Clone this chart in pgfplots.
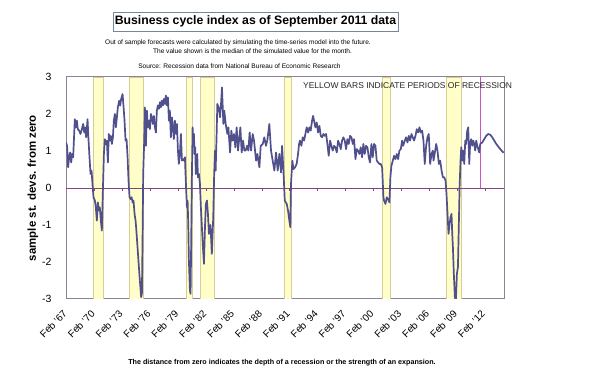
\documentclass[border=0pt]{standalone}
\usepackage{pgfplots}
\pgfplotsset{compat=1.18}
\usepackage{fontspec}
\setmainfont{Liberation Sans}
\definecolor{serie}{RGB}{80,80,140}
\definecolor{recfill}{RGB}{255,253,200}
\definecolor{recdraw}{RGB}{215,205,150}
\definecolor{frame}{RGB}{140,130,150}
\definecolor{zeroline}{RGB}{128,70,128}
\definecolor{pinkline}{RGB}{205,80,205}
\definecolor{titlebox}{RGB}{120,135,150}
\begin{document}
\begin{tikzpicture}
\useasboundingbox (0,0) rectangle (590bp,384bp);
\node[draw=titlebox, line width=0.6bp, minimum width=285bp, minimum height=19bp, inner sep=0pt, font=\fontsize{12.3}{14}\selectfont\bfseries] at (255.5bp,362.5bp) {Business cycle index as of September 2011 data};
\node[font=\fontsize{6.6}{8}\selectfont] at (238bp,341bp) {Out of sample forecasts were calculated by simulating the time-series model into the future.};
\node[font=\fontsize{6.6}{8}\selectfont] at (252.5bp,332.5bp) {The value shown is the median of the simulated value for the month.};
\node[font=\fontsize{6.6}{8}\selectfont] at (239.5bp,318bp) {Source: Recession data from National Bureau  of Economic Research};
\node[font=\fontsize{7.2}{9}\selectfont\bfseries] at (282bp,21bp) {The distance from zero indicates the depth of a recession or the strength of an expansion.};
\begin{axis}[
  at={(66bp,85bp)}, anchor=south west,
  scale only axis, width=438bp, height=222bp,
  xmin=1967, xmax=2014.15, ymin=-3, ymax=3,
  axis line style={draw=frame, line width=1bp},
  tick style={draw=none},
  ytick={-3,-2,-1,0,1,2,3},
  yticklabel style={font=\fontsize{10.5}{12}\selectfont, xshift=-11bp},
  /pgf/number format/assume math mode=true,
  xtick={1967.083,1970.083,1973.083,1976.083,1979.083,1982.083,1985.083,1988.083,1991.083,1994.083,1997.083,2000.083,2003.083,2006.083,2009.083,2012.083},
  xticklabels={Feb '67,Feb '70,Feb '73,Feb '76,Feb '79,Feb '82,Feb '85,Feb '88,Feb '91,Feb '94,Feb '97,Feb '00,Feb '03,Feb '06,Feb '09,Feb '12},
  xticklabel style={rotate=45, anchor=north east, font=\fontsize{10}{12}\selectfont, xshift=-7bp, yshift=-1bp},
  ylabel={sample st. devs. from zero},
  every axis y label/.style={at={(axis description cs:-0.0753,0.5)}, rotate=90, anchor=center, font=\fontsize{11.5}{13}\selectfont\bfseries},
]
% recession bars
\addplot[fill=recfill, draw=recdraw, line width=0.6bp] coordinates {(1969.92,-3) (1969.92,3) (1971.0,3) (1971.0,-3)} --cycle;
\addplot[fill=recfill, draw=recdraw, line width=0.6bp] coordinates {(1973.80,-3) (1973.80,3) (1975.30,3) (1975.30,-3)} --cycle;
\addplot[fill=recfill, draw=recdraw, line width=0.6bp] coordinates {(1979.98,-3) (1979.98,3) (1980.59,3) (1980.59,-3)} --cycle;
\addplot[fill=recfill, draw=recdraw, line width=0.6bp] coordinates {(1981.49,-3) (1981.49,3) (1982.96,3) (1982.96,-3)} --cycle;
\addplot[fill=recfill, draw=recdraw, line width=0.6bp] coordinates {(1990.50,-3) (1990.50,3) (1991.30,3) (1991.30,-3)} --cycle;
\addplot[fill=recfill, draw=recdraw, line width=0.6bp] coordinates {(2001.10,-3) (2001.10,3) (2001.93,3) (2001.93,-3)} --cycle;
\addplot[fill=recfill, draw=recdraw, line width=0.6bp] coordinates {(2007.93,-3) (2007.93,3) (2009.51,3) (2009.51,-3)} --cycle;
% zero line and small ticks
\addplot[zeroline, line width=0.8bp] coordinates {(1967,0) (2014.15,0)};
\addplot[ycomb, zeroline, line width=0.5bp, mark=none] coordinates {(1970.083,-0.08) (1973.083,-0.08) (1976.083,-0.08) (1979.083,-0.08) (1982.083,-0.08) (1985.083,-0.08) (1988.083,-0.08) (1991.083,-0.08) (1994.083,-0.08) (1997.083,-0.08) (2000.083,-0.08) (2003.083,-0.08) (2006.083,-0.08) (2009.083,-0.08) (2012.083,-0.08)};
% data end marker
\addplot[pinkline, line width=1bp] coordinates {(2011.67,0) (2011.67,3)};
% index
\addplot[serie, line width=1.7bp, line join=round, mark=none] coordinates {
(1967.00,1.23) (1967.12,1.14) (1967.23,0.56) (1967.34,0.83) (1967.45,0.96) (1967.56,0.69) (1967.66,0.92) (1967.77,0.83) (1967.88,1.46) (1967.95,1.86)
(1968.06,1.64) (1968.17,1.82) (1968.27,1.59) (1968.42,1.55) (1968.56,1.46) (1968.71,1.59) (1968.85,1.73) (1968.96,1.50) (1969.06,1.64) (1969.17,1.37)
(1969.32,1.86) (1969.42,1.32) (1969.53,0.83) (1969.64,0.38) (1969.75,0.47) (1969.85,0.11) (1969.96,-0.25) (1970.11,-0.34) (1970.21,-0.52) (1970.32,-0.88)
(1970.43,-0.39) (1970.54,-0.61) (1970.64,-0.52) (1970.75,-0.88) (1970.86,-1.15) (1970.97,-0.07) (1971.08,0.92) (1971.18,1.32) (1971.29,1.19) (1971.40,1.28)
(1971.51,0.69) (1971.61,1.46) (1971.72,1.28) (1971.83,1.41) (1971.94,1.19) (1972.05,1.37) (1972.15,1.82) (1972.26,2.00) (1972.37,1.64) (1972.48,1.91)
(1972.58,2.18) (1972.73,2.36) (1972.84,2.23) (1972.94,2.41) (1973.09,2.54) (1973.20,2.18) (1973.30,1.82) (1973.41,1.28) (1973.52,1.32) (1973.63,0.83)
(1973.73,0.20) (1973.84,-0.25) (1973.95,-0.30) (1974.06,-0.25) (1974.17,-0.39) (1974.27,-0.34) (1974.38,-0.70) (1974.49,-0.88) (1974.59,-1.20) (1974.81,-2.00)
(1974.95,-2.50) (1975.09,-2.95) (1975.17,-2.86) (1975.24,-1.42) (1975.31,0.38) (1975.42,1.28) (1975.49,2.18) (1975.60,1.14) (1975.71,2.09) (1975.81,1.64)
(1975.92,1.82) (1976.03,1.59) (1976.14,2.00) (1976.24,1.91) (1976.35,1.73) (1976.46,1.95) (1976.57,1.64) (1976.68,1.50) (1976.78,2.09) (1976.89,2.23)
(1977.00,2.14) (1977.11,2.32) (1977.21,2.18) (1977.32,2.36) (1977.43,2.23) (1977.54,2.41) (1977.65,2.27) (1977.75,2.50) (1977.86,2.23) (1977.97,2.45)
(1978.08,1.82) (1978.18,2.09) (1978.29,1.37) (1978.40,1.91) (1978.51,1.64) (1978.61,1.32) (1978.72,1.82) (1978.83,1.46) (1978.94,1.73) (1979.05,1.01)
(1979.15,0.65) (1979.26,0.92) (1979.37,1.46) (1979.48,0.74) (1979.58,0.78) (1979.69,0.74) (1979.80,0.83) (1979.91,0.11) (1980.02,-0.52) (1980.09,-0.34)
(1980.16,-0.97) (1980.23,-1.96) (1980.34,-2.77) (1980.41,-2.86) (1980.48,-1.42) (1980.55,0.29) (1980.63,1.64) (1980.70,1.28) (1980.77,1.46) (1980.84,0.92)
(1980.91,1.10) (1980.97,0.38) (1981.06,0.56) (1981.13,0.92) (1981.20,0.29) (1981.31,0.38) (1981.42,0.11) (1981.52,-0.52) (1981.63,-1.06) (1981.74,-1.60)
(1981.85,-2.05) (1981.96,-1.06) (1982.06,-0.43) (1982.17,-0.34) (1982.28,-0.70) (1982.39,-1.24) (1982.55,-1.00) (1982.70,-1.78) (1982.85,-0.80) (1982.95,0.38)
(1983.04,1.01) (1983.11,0.47) (1983.22,1.50) (1983.29,2.27) (1983.43,2.18) (1983.58,1.91) (1983.69,2.27) (1983.79,2.72) (1983.94,1.73) (1984.04,2.09)
(1984.19,1.73) (1984.37,1.46) (1984.48,1.64) (1984.66,0.96) (1984.80,1.55) (1984.94,1.28) (1985.09,1.46) (1985.23,1.10) (1985.37,1.64) (1985.52,1.01)
(1985.66,1.37) (1985.77,1.64) (1985.91,0.96) (1986.06,1.28) (1986.20,1.01) (1986.34,1.01) (1986.49,1.14) (1986.63,1.01) (1986.77,1.50) (1986.92,1.01)
(1987.10,1.46) (1987.24,1.28) (1987.46,0.74) (1987.60,0.92) (1987.82,0.56) (1987.96,1.14) (1988.18,1.19) (1988.35,1.37) (1988.53,1.14) (1988.68,1.30)
(1988.89,1.73) (1989.07,1.01) (1989.25,0.74) (1989.43,0.47) (1989.61,0.96) (1989.79,0.47) (1989.97,0.92) (1990.15,0.42) (1990.26,1.14) (1990.40,0.50)
(1990.55,-0.34) (1990.76,-0.43) (1990.90,-0.61) (1991.04,-0.88) (1991.15,-1.06) (1991.22,0.11) (1991.37,0.74) (1991.48,0.51) (1991.66,0.56) (1991.83,0.65)
(1991.98,0.92) (1992.09,1.19) (1992.19,1.28) (1992.34,1.14) (1992.48,1.37) (1992.63,1.28) (1992.77,1.46) (1992.91,1.64) (1993.06,1.50) (1993.20,1.64)
(1993.34,1.55) (1993.49,1.82) (1993.60,1.95) (1993.70,1.82) (1993.85,1.64) (1993.99,1.77) (1994.13,1.50) (1994.28,1.68) (1994.42,1.41) (1994.57,1.37)
(1994.71,1.46) (1994.85,1.41) (1995.00,1.46) (1995.14,1.19) (1995.28,0.87) (1995.43,1.28) (1995.57,1.14) (1995.71,1.01) (1995.86,1.14) (1996.00,1.10)
(1996.15,0.96) (1996.29,1.28) (1996.43,1.19) (1996.58,1.05) (1996.72,1.28) (1996.86,1.37) (1997.01,1.28) (1997.15,1.05) (1997.29,1.32) (1997.44,1.19)
(1997.58,1.41) (1997.73,1.37) (1997.87,1.19) (1998.01,1.32) (1998.16,0.78) (1998.30,1.05) (1998.44,1.01) (1998.58,0.92) (1998.73,1.10) (1998.87,0.83)
(1999.01,1.19) (1999.16,0.92) (1999.30,1.14) (1999.45,1.10) (1999.59,0.83) (1999.73,0.69) (1999.88,1.19) (2000.02,0.83) (2000.16,1.19) (2000.31,1.14)
(2000.45,0.74) (2000.60,0.69) (2000.74,0.65) (2000.88,0.65) (2001.03,0.56) (2001.17,-0.25) (2001.24,-0.34) (2001.39,-0.43) (2001.53,-0.25) (2001.67,-0.30)
(2001.82,-0.39) (2001.92,0.29) (2002.03,0.60) (2002.18,0.74) (2002.32,0.87) (2002.46,0.78) (2002.61,0.92) (2002.75,0.78) (2002.89,1.01) (2003.04,1.05)
(2003.18,1.28) (2003.29,1.14) (2003.47,1.28) (2003.61,1.37) (2003.76,1.23) (2003.90,1.41) (2004.04,1.28) (2004.19,1.46) (2004.33,1.37) (2004.47,1.28)
(2004.62,1.41) (2004.76,1.59) (2004.91,1.50) (2005.05,1.64) (2005.19,1.50) (2005.34,1.55) (2005.48,1.28) (2005.62,0.65) (2005.77,1.14) (2005.91,1.37)
(2006.05,1.46) (2006.20,0.65) (2006.34,0.92) (2006.49,1.01) (2006.56,0.74) (2006.71,0.96) (2006.85,1.19) (2006.99,1.01) (2007.14,0.65) (2007.28,0.74)
(2007.43,0.47) (2007.57,0.29) (2007.71,0.29) (2007.86,0.20) (2007.96,-0.16) (2008.07,-0.70) (2008.18,-1.24) (2008.29,-0.97) (2008.40,-0.79) (2008.50,-0.70)
(2008.58,-1.24) (2008.65,-1.60) (2008.75,-2.32) (2008.86,-2.95) (2008.97,-3.05) (2009.08,-2.32) (2009.19,-2.14) (2009.29,-0.97) (2009.37,0.02) (2009.47,0.74)
(2009.55,1.10) (2009.65,0.74) (2009.76,1.01) (2009.87,0.65) (2009.98,1.28) (2010.08,1.19) (2010.19,1.55) (2010.30,1.64) (2010.41,0.65) (2010.51,1.23)
(2010.62,1.32) (2010.73,1.14) (2010.84,1.28) (2010.95,1.19) (2011.05,1.01) (2011.16,1.28) (2011.27,1.14) (2011.38,1.05) (2011.48,0.96) (2011.59,1.19)
(2011.81,1.23) (2012.02,1.32) (2012.24,1.41) (2012.45,1.46) (2012.67,1.44) (2012.89,1.37) (2013.10,1.28) (2013.32,1.19) (2013.53,1.12) (2013.75,1.05)
(2013.96,0.99) (2014.11,0.95)
};
\end{axis}
\node[anchor=west, font=\fontsize{8.5}{10}\selectfont, text=black!85, inner sep=0pt] at (303bp,298.5bp) {YELLOW BARS INDICATE PERIODS OF RECESSION};
\end{tikzpicture}
\end{document}
